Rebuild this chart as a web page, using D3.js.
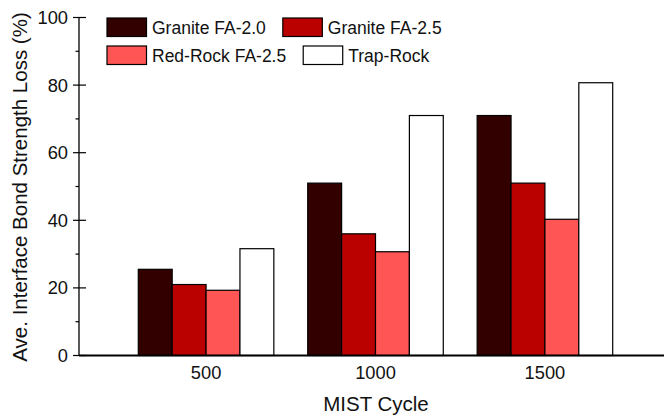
<!DOCTYPE html>
<html>
<head>
<meta charset="utf-8">
<script src="https://cdn.jsdelivr.net/npm/d3@7"></script>
<style>
  html, body { margin: 0; padding: 0; background: #fff; }
  svg { display: block; font-family: "Liberation Sans", Arial, sans-serif; }
</style>
</head>
<body>
<svg id="chart" width="664" height="417"></svg>
<script>
// MIST cycle groups
const cycles = [500, 1000, 1500];
// Series names and fills
const seriesNames = ["Granite FA-2.0", "Granite FA-2.5", "Red-Rock FA-2.5", "Trap-Rock"];
const seriesColors = ["#330000", "#bb0000", "#ff5555", "#ffffff"];
// Average interface bond strength loss (%) per series, per cycle
const graniteFA20 = [25.5, 51.0, 71.0];
const graniteFA25 = [21.0, 36.0, 51.0];
const redRockFA25 = [19.3, 30.7, 40.3];
const trapRock = [31.6, 71.0, 80.7];
const seriesValues = [graniteFA20, graniteFA25, redRockFA25, trapRock];
// Y axis ticks
const yMajorTicks = [0, 20, 40, 60, 80, 100];
const yMinorTicks = [10, 30, 50, 70, 90];

const svg = d3.select("#chart");

const x = d3.scaleLinear().domain([125, 1875]).range([79, 672]);
const y = d3.scaleLinear().domain([0, 100]).range([355.5, 17.5]);
const barW = (x(1000) - x(500)) / 5;

// Bars
seriesValues.forEach((vals, si) => {
  svg.append("g")
    .selectAll("rect")
    .data(vals)
    .join("rect")
    .attr("x", (d, i) => x(cycles[i]) + (si - 2) * barW)
    .attr("y", d => y(d))
    .attr("width", barW)
    .attr("height", d => y(0) - y(d))
    .attr("fill", seriesColors[si])
    .attr("stroke", "#000")
    .attr("stroke-width", 1.2);
});

// Y axis with major ticks crossing the line and short minor ticks outside
const yAxis = svg.append("g").attr("transform", "translate(79,0)");
yAxis.append("line")
  .attr("x1", 0).attr("x2", 0)
  .attr("y1", y(100)).attr("y2", y(0))
  .attr("stroke", "#000").attr("stroke-width", 1.3);
yAxis.selectAll("line.major")
  .data(yMajorTicks).join("line").attr("class", "major")
  .attr("x1", -6).attr("x2", 7)
  .attr("y1", d => y(d)).attr("y2", d => y(d))
  .attr("stroke", "#000").attr("stroke-width", 1.2);
yAxis.selectAll("line.minor")
  .data(yMinorTicks).join("line").attr("class", "minor")
  .attr("x1", -3.5).attr("x2", 0)
  .attr("y1", d => y(d)).attr("y2", d => y(d))
  .attr("stroke", "#000").attr("stroke-width", 1.2);
yAxis.selectAll("text")
  .data(yMajorTicks).join("text")
  .attr("x", -11)
  .attr("y", d => y(d))
  .attr("dy", "0.35em")
  .attr("text-anchor", "end")
  .attr("font-size", 18.3)
  .attr("fill", "#111")
  .text(d => d);

// X axis
const xAxis = svg.append("g").attr("transform", `translate(0,${y(0)})`);
xAxis.append("line")
  .attr("x1", 79).attr("x2", 664)
  .attr("stroke", "#000").attr("stroke-width", 1.8);
xAxis.selectAll("text")
  .data(cycles).join("text")
  .attr("x", d => x(d))
  .attr("y", 23)
  .attr("text-anchor", "middle")
  .attr("font-size", 18.3)
  .attr("fill", "#111")
  .text(d => d);

// Axis titles
svg.append("text")
  .attr("x", 376).attr("y", 411)
  .attr("text-anchor", "middle")
  .attr("font-size", 20.5)
  .attr("fill", "#111")
  .text("MIST Cycle");
svg.append("text")
  .attr("transform", "translate(27,187) rotate(-90)")
  .attr("text-anchor", "middle")
  .attr("font-size", 20.5)
  .attr("fill", "#111")
  .text("Ave. Interface Bond Strength Loss (%)");

// Legend: two rows, items flow left to right
const legendRows = [[0, 1], [2, 3]];
const legendX = 107, rowY = [18, 46], swW = 39.5, swH = 18.5, gap = 17;
legendRows.forEach((row, ri) => {
  let cx = legendX;
  row.forEach(si => {
    svg.append("rect")
      .attr("x", cx).attr("y", rowY[ri])
      .attr("width", swW).attr("height", swH)
      .attr("fill", seriesColors[si])
      .attr("stroke", "#000").attr("stroke-width", 1.2);
    const t = svg.append("text")
      .attr("x", cx + swW + 5.5)
      .attr("y", rowY[ri] + swH / 2)
      .attr("dy", "0.36em")
      .attr("font-size", 17.5)
      .attr("fill", "#111")
      .text(seriesNames[si]);
    cx += swW + 5.5 + t.node().getComputedTextLength() + gap;
  });
});
</script>
</body>
</html>
